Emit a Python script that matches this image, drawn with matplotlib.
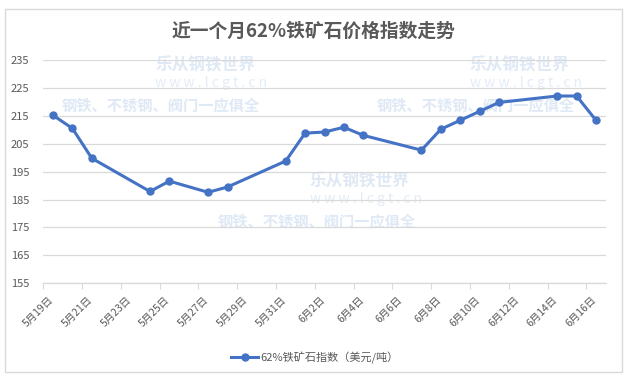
import matplotlib
matplotlib.use("Agg")
import matplotlib.pyplot as plt
from matplotlib.patches import Rectangle
from matplotlib.transforms import ScaledTranslation

plt.rcParams['font.family'] = ['Noto Sans CJK SC', 'DejaVu Sans']

# calendar days 5/19 .. 6/16 (index 0..28), only trading days have values
day_idx = [0, 1, 2, 5, 6, 8, 9, 12, 13, 14, 15, 16, 19, 20, 21, 22, 23, 26, 27, 28]
index_values = [215.2, 210.5, 199.8, 187.9, 191.6, 187.6, 189.5, 198.8, 208.8, 209.2,
                210.9, 208.0, 202.7, 210.2, 213.4, 216.6, 219.8, 222.1, 222.1, 213.4]
tick_days = list(range(0, 29, 2))
tick_labels = ['5月19日', '5月21日', '5月23日', '5月25日', '5月27日', '5月29日', '5月31日',
               '6月2日', '6月4日', '6月6日', '6月8日', '6月10日', '6月12日', '6月14日', '6月16日']
series_name = '62%铁矿石指数（美元/吨）'
title = '近一个月62%铁矿石价格指数走势'

W, H = 630, 378
fig = plt.figure(figsize=(W / 100, H / 100), dpi=100)

# chart border
fig.patches.append(Rectangle((5 / W, 1 - 372 / H), 617 / W, 363 / H, transform=fig.transFigure,
                             fill=False, edgecolor='#D9D9D9', linewidth=1.0))

ax = fig.add_axes([43.3 / W, 1 - 283.3 / H, 562.4 / W, 223.3 / H])
ax.set_zorder(1)

# faint watermarks, kept behind the axes
wm_color = '#D8E4F3'
for x0, y0, x1 in [(155, 65, 62), (470, 65, 377), (310, 181, 218)]:
    fig.text(x0 / W, 1 - y0 / H, '乐从钢铁世界', fontsize=12, fontweight='bold', color=wm_color,
             alpha=0.8, ha='left', va='center', zorder=-1)
    fig.text(x0 / W, 1 - (y0 + 18) / H, 'w w w . l c g t . c n', fontsize=10, color=wm_color,
             alpha=0.7, ha='left', va='center', zorder=-1)
    fig.text(x1 / W, 1 - (y0 + 40) / H, '钢铁、不锈钢、阀门一应俱全', fontsize=11, fontweight='bold',
             color=wm_color, alpha=0.8, ha='left', va='center', zorder=-1)

ax.set_facecolor('none')
ax.plot(day_idx, index_values, color='#4472C4', linewidth=2.2, marker='o', markersize=5,
        label=series_name, zorder=3)

ax.set_xlim(-0.5, 28.5)
ax.set_ylim(155, 235)
ax.set_yticks(range(155, 236, 10))
ax.yaxis.grid(True, color='#D9D9D9', linewidth=0.9)
ax.set_axisbelow(True)

for s in ['top', 'right', 'left']:
    ax.spines[s].set_visible(False)
ax.spines['bottom'].set_color('#D9D9D9')
ax.spines['bottom'].set_linewidth(0.9)

ax.set_xticks([d - 0.5 for d in tick_days])
ax.set_xticklabels(tick_labels, rotation=45, ha='right', fontsize=7.5, color='#595959')
ax.tick_params(axis='x', length=4, color='#D9D9D9', pad=4)
ax.tick_params(axis='y', length=0, labelsize=8, labelcolor='#595959', pad=10)
off = ScaledTranslation(0.12, 0.0, fig.dpi_scale_trans)
for lbl in ax.get_xticklabels():
    lbl.set_transform(lbl.get_transform() + off)

fig.text(313 / W, 1 - 31.7 / H, title, fontsize=13.5, fontweight='bold', color='#595959',
         ha='center', va='center')

fig.legend(loc='center', bbox_to_anchor=(0.5, 1 - 357.6 / H), frameon=False, fontsize=8,
           handlelength=2.4, handletextpad=0.2, labelcolor='#595959')

fig.savefig('out.png', dpi=100)
